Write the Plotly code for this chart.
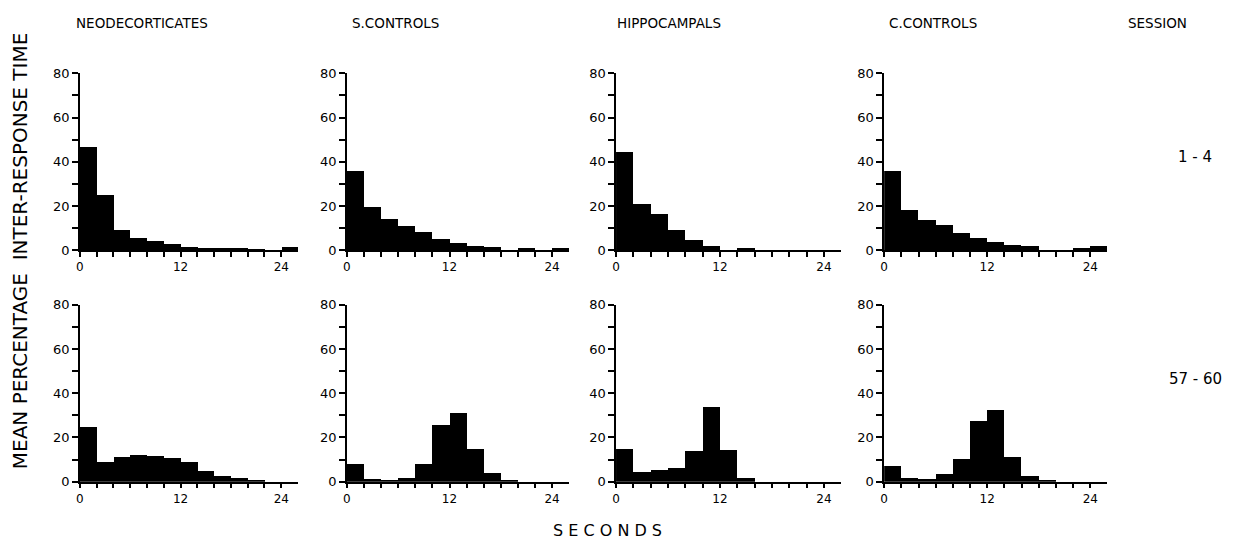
import plotly.graph_objects as go

# ---- data ----
bin_centers = [1, 3, 5, 7, 9, 11, 13, 15, 17, 19, 21, 23, 25]  # seconds, 2-s bins
groups = ["NEODECORTICATES", "S.CONTROLS", "HIPPOCAMPALS", "C.CONTROLS"]
sessions = ["1 - 4", "57 - 60"]

neo_s1_4 = [46.5, 25, 9.2, 5.6, 4.1, 2.5, 1.2, 0.6, 0.7, 0.7, 0.4, 0, 1.2]
sc_s1_4 = [35.8, 19.2, 13.8, 10.7, 8.1, 5.0, 3.3, 2.0, 1.2, 0, 1.0, 0, 0.8]
hip_s1_4 = [44.3, 20.6, 16.3, 9.1, 4.3, 1.9, 0, 0.5, 0, 0, 0, 0, 0]
cc_s1_4 = [35.5, 18.0, 13.6, 11.4, 7.7, 5.2, 3.7, 2.2, 2.0, 0, 0, 0.6, 1.6]

neo_s57_60 = [24.9, 9.0, 11.3, 12.3, 11.9, 10.7, 8.8, 4.9, 2.5, 2.0, 1.0, 0, 0]
sc_s57_60 = [7.9, 1.5, 1.0, 2.0, 8.2, 25.8, 31.3, 14.9, 4.0, 0.5, 0, 0, 0]
hip_s57_60 = [15.0, 4.6, 5.5, 6.5, 14.0, 34.0, 14.6, 2.0, 0, 0, 0, 0, 0]
cc_s57_60 = [7.1, 2.0, 1.5, 3.5, 10.3, 27.4, 32.6, 11.4, 2.5, 1.0, 0, 0, 0]

y_ticks = [0, 10, 20, 30, 40, 50, 60, 70, 80]
y_ticktext = ["0", "", "20", "", "40", "", "60", "", "80"]
x_ticks = [0, 2, 4, 6, 8, 10, 12, 14, 16, 18, 20, 22, 24]
x_ticktext = ["0", "", "", "", "", "", "12", "", "", "", "", "", "24"]

rows = [[neo_s1_4, sc_s1_4, hip_s1_4, cc_s1_4],
        [neo_s57_60, sc_s57_60, hip_s57_60, cc_s57_60]]

# ---- layout geometry (screen pixels; page body has an 8 px margin) ----
OFF = 8
PW, PH = 1252 - 2 * OFF, 556 - 2 * OFF


def fx(sx):
    return (sx - OFF) / PW


def fy(sy):
    return 1 - (sy - OFF) / PH


col_px = [(76, 295), (344, 567), (614, 840), (883, 1107)]
row_px = [(68, 250), (306, 488)]  # screen y of 80 and of 0

FONT = "DejaVu Sans"
fig = go.Figure()
layout = {}
k = 0
for r in range(2):
    for c in range(4):
        k += 1
        xa = "x" if k == 1 else f"x{k}"
        ya = "y" if k == 1 else f"y{k}"
        fig.add_trace(go.Bar(
            x=bin_centers, y=rows[r][c], width=2,
            marker=dict(color="black", line=dict(width=0)),
            xaxis=xa, yaxis=ya, showlegend=False, hoverinfo="x+y"))
        x0, x1 = col_px[c]
        ytop, ybot = row_px[r]
        layout["xaxis" if k == 1 else f"xaxis{k}"] = dict(
            domain=[fx(x0), fx(x1)], range=[0, 26], anchor=ya,
            tickmode="array", tickvals=x_ticks, ticktext=x_ticktext,
            ticks="outside", ticklen=5, tickwidth=1.5, tickcolor="black",
            showline=True, linecolor="black", linewidth=1.5,
            showgrid=False, zeroline=False,
            tickfont=dict(family=FONT, size=12, color="black"))
        layout["yaxis" if k == 1 else f"yaxis{k}"] = dict(
            domain=[fy(ybot), fy(ytop)], range=[0, 80], anchor=xa,
            tickmode="array", tickvals=y_ticks, ticktext=y_ticktext,
            ticks="outside", ticklen=6, tickwidth=1.5, tickcolor="black",
            showline=True, linecolor="black", linewidth=1.5,
            showgrid=False, zeroline=False,
            tickfont=dict(family=FONT, size=13, color="black"))

annotations = []
header_x = [138, 393, 667, 932, 1157]
for name, hx in zip(groups + ["SESSION"], header_x):
    annotations.append(dict(text=name, x=fx(hx), y=fy(16), xref="paper", yref="paper",
                            xanchor="center", yanchor="middle",
                            showarrow=False, font=dict(family=FONT, size=13.5, color="black")))
for s, sy in zip(sessions, [154, 382]):
    annotations.append(dict(text=s, x=fx(1195), y=fy(sy), xref="paper", yref="paper",
                            xanchor="center", yanchor="middle",
                            showarrow=False, font=dict(family=FONT, size=15, color="black")))
annotations.append(dict(text="MEAN PERCENTAGE  INTER-RESPONSE TIME", x=fx(16), y=fy(250),
                        xref="paper", yref="paper", textangle=-90, showarrow=False,
                        xanchor="center", yanchor="middle",
                        font=dict(family=FONT, size=20, color="black")))
annotations.append(dict(text="S E C O N D S", x=fx(605), y=fy(538),
                        xref="paper", yref="paper", showarrow=False,
                        xanchor="center", yanchor="middle",
                        font=dict(family=FONT, size=16, color="black")))

fig.update_layout(**layout)
fig.update_layout(width=PW, height=PH, margin=dict(l=0, r=0, t=0, b=0),
                  plot_bgcolor="white", paper_bgcolor="white", bargap=0,
                  annotations=annotations)
fig.write_html("out.html")
